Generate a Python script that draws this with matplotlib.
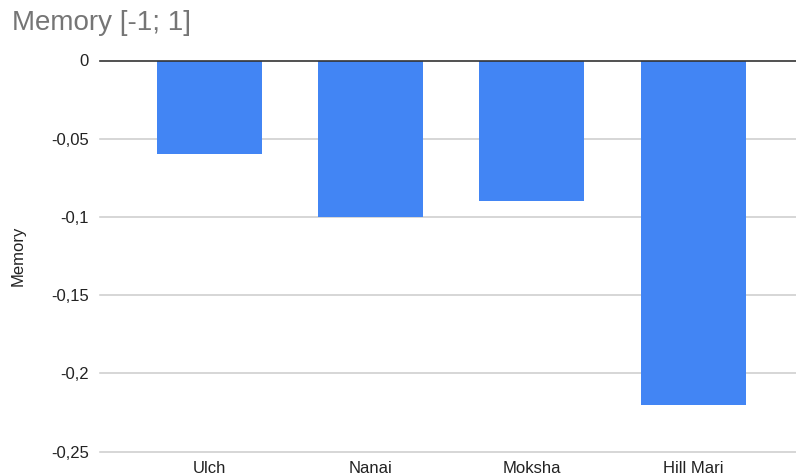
import matplotlib.pyplot as plt
import numpy as np

# dados
idiomas = ['Ulch', 'Nanai', 'Moksha', 'Hill Mari']
memoria = [-0.06, -0.10, -0.09, -0.22]
ticks_y = [0, -0.05, -0.1, -0.15, -0.2, -0.25]

plt.rcParams['font.family'] = ['Liberation Sans', 'DejaVu Sans']

fig = plt.figure(figsize=(7.96, 4.75), dpi=100)
ax = fig.add_axes([100 / 796, 1 - 451.7 / 475, 1 - 100 / 796, (451.7 - 60.5) / 475])

x = np.arange(len(idiomas))
ax.bar(x, memoria, width=0.65, color='#4285F4', zorder=3)

# linhas de grade
for v in ticks_y[1:]:
    ax.axhline(v, color='#cccccc', lw=1.1, zorder=1, clip_on=False)
ax.axhline(0, color='#333333', lw=1.2, zorder=4, clip_on=False)

ax.set_ylim(-0.25, 0)
ax.set_xlim(-0.677, 3.637)
ax.set_yticks(ticks_y)
ax.set_yticklabels([('%g' % v).replace('.', ',') for v in ticks_y])
ax.set_xticks(x)
ax.set_xticklabels(idiomas)
ax.tick_params(axis='both', length=0, labelsize=12, colors='#222222')
ax.tick_params(axis='y', pad=8)
ax.tick_params(axis='x', pad=7)
for s in ax.spines.values():
    s.set_visible(False)

ax.yaxis.set_label_coords(-(100 - 18) / 696, 0.5)
ax.set_ylabel('Memory', fontsize=12, color='#222222', va='center')
fig.text(12 / 796, 1 - 23 / 475, 'Memory [-1; 1]', fontsize=20, color='#757575',
         ha='left', va='center')

fig.savefig('out.png', dpi=100)
